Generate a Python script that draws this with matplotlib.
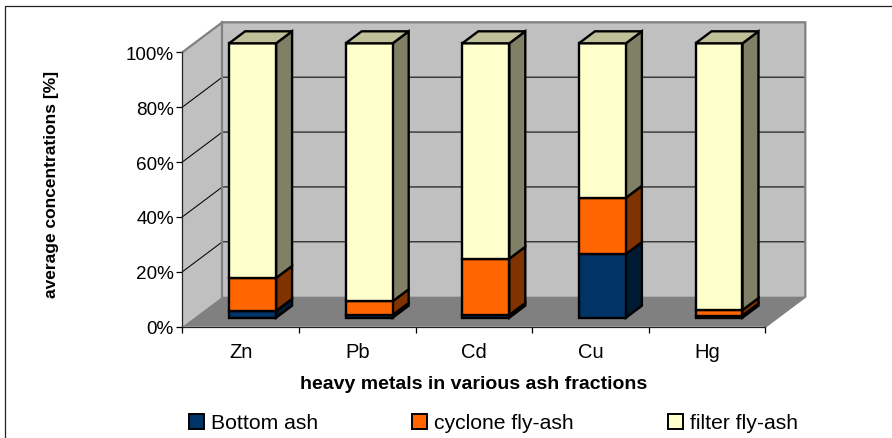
"""Stacked 3D-look column chart of heavy metals in ash fractions."""
import matplotlib
matplotlib.use("Agg")
import matplotlib.pyplot as plt
from matplotlib.patches import Patch, Polygon

plt.rcParams["font.family"] = ["Liberation Sans", "DejaVu Sans"]

metals = ["Zn", "Pb", "Cd", "Cu", "Hg"]
bottom_ash = [2.5, 1.0, 1.0, 23.2, 0.8]
cyclone_ash = [12.0, 5.0, 20.5, 20.5, 2.0]
filter_ash = [85.5, 94.0, 78.5, 56.3, 97.2]
y_ticks = [0, 20, 40, 60, 80, 100]
y_labels = ["0%", "20%", "40%", "60%", "80%", "100%"]
series_names = ["Bottom ash", "cyclone fly-ash", "filter fly-ash"]

FRONT = ["#003366", "#ff6600", "#ffffcc"]
SIDE = ["#001a33", "#803300", "#808066"]
TOP = ["#001a33", "#803300", "#bfbf99"]

W, H = 892, 439
LEFT, RIGHT, TOP_PX, BOTTOM_PX = 182.3, 765.3, 53.3, 327.7

# one unit of depth moves this far in data units
DX = 40 / ((RIGHT - LEFT) / 5)
DY = 30 / ((BOTTOM_PX - TOP_PX) / 100)
BAR_W = 0.403
D0, D1 = 0.3, 0.7


def pt(x, y, d=0.0):
    return (x + d * DX, y + d * DY)


fig = plt.figure(figsize=(W / 100, H / 100), dpi=100)
ax = fig.add_axes([LEFT / W, 1 - BOTTOM_PX / H, (RIGHT - LEFT) / W, (BOTTOM_PX - TOP_PX) / H])
ax.set_xlim(0, 5)
ax.set_ylim(0, 100)
ax.patch.set_visible(False)


def poly(points, face, edge="none", lw=0.0, z=1):
    ax.add_patch(Polygon(points, closed=True, facecolor=face, edgecolor=edge,
                         linewidth=lw, clip_on=False, zorder=z, joinstyle="miter"))


# walls and floor
poly([pt(0, 0, 1), pt(5, 0, 1), pt(5, 100, 1), pt(0, 100, 1)], "#c0c0c0")
poly([pt(0, 0, 0), pt(0, 0, 1), pt(0, 100, 1), pt(0, 100, 0)], "#c0c0c0")
poly([pt(0, 0, 0), pt(5, 0, 0), pt(5, 0, 1), pt(0, 0, 1)], "#808080")

for v in y_ticks[1:-1]:
    ax.plot(*zip(pt(0, v, 0), pt(0, v, 1), pt(5, v, 1)), color="black", lw=0.75,
            clip_on=False, zorder=2)

# grey outline of the walls
ax.plot(*zip(pt(0, 100, 0), pt(0, 100, 1), pt(5, 100, 1), pt(5, 0, 1), pt(5, 0, 0)),
        color="#808080", lw=1.6, clip_on=False, zorder=2, solid_joinstyle="miter")
ax.plot(*zip(pt(0, 0, 1), pt(0, 100, 1)), color="#808080", lw=1.6, clip_on=False, zorder=2)

# stacked columns
for i in range(len(metals)):
    x0 = i + 0.5 - BAR_W / 2
    x1 = x0 + BAR_W
    base = 0.0
    stack = [bottom_ash[i], cyclone_ash[i], filter_ash[i]]
    for j, val in enumerate(stack):
        top = base + val
        poly([pt(x1, base, D0), pt(x1, base, D1), pt(x1, top, D1), pt(x1, top, D0)],
             SIDE[j], "black", 1.7, 3)
        poly([pt(x0, base, D0), pt(x1, base, D0), pt(x1, top, D0), pt(x0, top, D0)],
             FRONT[j], "black", 1.7, 4)
        base = top
    poly([pt(x0, base, D0), pt(x1, base, D0), pt(x1, base, D1), pt(x0, base, D1)],
         TOP[2], "black", 1.7, 4)

# axes
for side in ["top", "right"]:
    ax.spines[side].set_visible(False)
for side in ["left", "bottom"]:
    ax.spines[side].set_linewidth(0.9)
    ax.spines[side].set_color("#222222")
    ax.spines[side].set_zorder(2)
ax.set_yticks(y_ticks)
ax.set_yticklabels(y_labels)
ax.set_xticks(range(6))
ax.set_xticklabels([])
ax.set_xticks([i + 0.5 for i in range(5)], metals, minor=True)
ax.tick_params(axis="y", length=4, width=0.9, labelsize=13.6, pad=2)
ax.tick_params(axis="x", which="major", length=4, width=0.9)
ax.tick_params(axis="x", which="minor", length=0, labelsize=14.5, pad=11)

fig.text(52 / W, 1 - 184 / H, "average concentrations [%]", rotation=90, ha="center",
         va="center", fontsize=12.5, fontweight="bold")
fig.text(474 / W, 1 - 385 / H, "heavy metals in various ash fractions", ha="center",
         va="center", fontsize=14, fontweight="bold")

handles = [Patch(facecolor=FRONT[k], edgecolor="black", linewidth=1.4) for k in range(3)]
fig.legend(handles, series_names, ncol=3, loc="center", bbox_to_anchor=(493.5 / W, 1 - 424 / H),
           frameon=False, fontsize=15.2, handlelength=0.72, handleheight=0.72,
           handletextpad=0.32, columnspacing=4.46, borderpad=0, borderaxespad=0)

# outer frame, cut off by the image on the right and at the bottom
fig.add_artist(plt.Line2D([5 / W, 5 / W, 1], [0, 1 - 6.5 / H, 1 - 6.5 / H], color="#222222", lw=0.9))

fig.savefig("out.png", dpi=100)
plt.close(fig)
